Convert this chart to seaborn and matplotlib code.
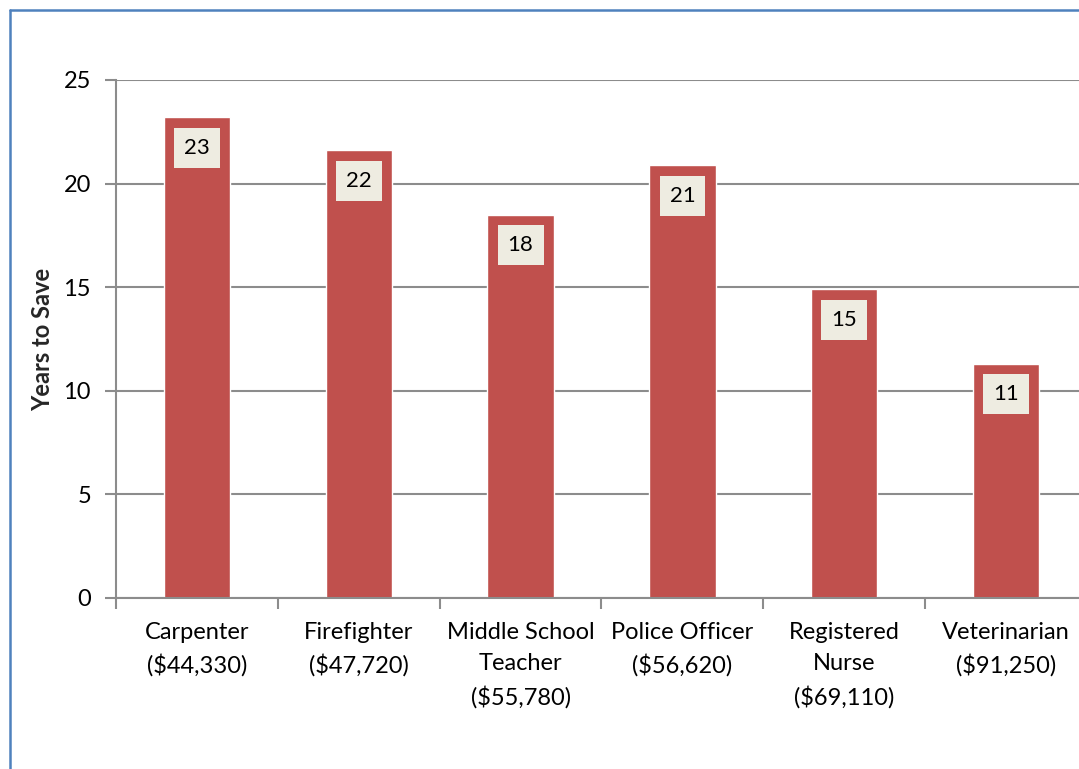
import matplotlib
matplotlib.use("Agg")
import matplotlib.pyplot as plt
import seaborn as sns
import pandas as pd
from matplotlib.lines import Line2D

# Data
occupations = ["Carpenter\n($44,330)", "Firefighter\n($47,720)", "Middle School\nTeacher\n($55,780)",
               "Police Officer\n($56,620)", "Registered\nNurse\n($69,110)", "Veterinarian\n($91,250)"]
years_to_save = [23.2, 21.6, 18.5, 20.9, 14.9, 11.3]
bar_labels = ["23", "22", "18", "21", "15", "11"]

df = pd.DataFrame({"occupation": occupations, "years": years_to_save})

sns.set_theme(style="white")
plt.rcParams['font.family'] = ['Lato', 'DejaVu Sans']

fig = plt.figure(figsize=(10.79, 7.69), dpi=100)
ax = fig.add_axes([116 / 1079, 171 / 769, 971 / 1079, 518 / 769])

sns.barplot(data=df, x="occupation", y="years", color="#C0504D", width=0.41,
            saturation=1, ax=ax)

# Value labels inside bar tops
for i, (v, lab) in enumerate(zip(years_to_save, bar_labels)):
    ax.annotate(lab, (i, v), xytext=(0, -22), textcoords="offset points",
                ha="center", va="center", fontsize=16, color="black",
                bbox=dict(boxstyle="square,pad=0.45", facecolor="#EEECE1", edgecolor="none"))

ax.set_xlim(-0.5, 5.5)
ax.set_ylim(0, 25)
ax.set_yticks([0, 5, 10, 15, 20, 25])
ax.yaxis.grid(True, color="#8C8C8C", linewidth=1.5)
ax.set_axisbelow(True)

for side in ["top", "right"]:
    ax.spines[side].set_visible(False)
for side in ["left", "bottom"]:
    ax.spines[side].set_color("#8C8C8C")
    ax.spines[side].set_linewidth(1.5)

ax.tick_params(axis="y", left=True, length=8, width=1.5, color="#8C8C8C",
               labelsize=17, pad=10, labelcolor="black")
ax.tick_params(axis="x", length=0, labelsize=17, pad=17, labelcolor="black")
for t in ax.get_xticklabels():
    t.set_linespacing(1.6)
ax.set_xticks([x - 0.5 for x in range(7)], minor=True)
ax.tick_params(axis="x", which="minor", bottom=True, length=8, width=1.5, color="#8C8C8C")

ax.set_xlabel("")
ax.set_ylabel("Years to Save", fontsize=17, fontweight="bold", labelpad=7)

# Chart area border (left and top edges visible)
x0 = 10 / 1079
y0 = 1 - 10 / 769
fig.add_artist(Line2D([x0, x0], [0, y0], transform=fig.transFigure, color="#4F81BD", linewidth=1.8))
fig.add_artist(Line2D([x0, 1], [y0, y0], transform=fig.transFigure, color="#4F81BD", linewidth=1.8))

fig.savefig("out.png", dpi=100)
